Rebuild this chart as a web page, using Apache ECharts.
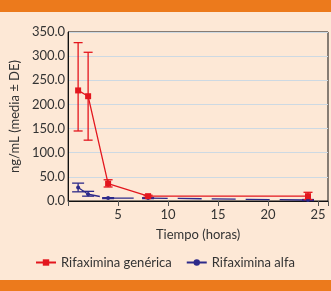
<!DOCTYPE html>
<html>
<head>
<meta charset="utf-8">
<script src="https://cdn.jsdelivr.net/npm/echarts@6/dist/echarts.min.js"></script>
<style>
  html, body { margin: 0; padding: 0; background: #fde8d6; }
  #chart { width: 331px; height: 291px; }
</style>
</head>
<body>
<div id="chart"></div>
<script>
// horas
const horas = [1, 2, 4, 8, 24]
// Rifaximina genérica (media, DE)
const genericaMedia = [229, 217, 36, 10, 10]
const genericaBaja = [145, 126, 29, 8, 3]
const genericaAlta = [328, 308, 44, 12, 18]
// Rifaximina alfa
const alfaMedia = [28, 14, 6, 6, 2]
const alfaBaja = [19, 10, 5, 5, 1]
const alfaAlta = [37, 20, 7, 7, 3]

const yTicks = [0, 50, 100, 150, 200, 250, 300, 350]
const xTicks = [5, 10, 15, 20, 25]

const rojo = '#e3161e'
const azul = '#2d2a8a'
const fuente = 'Lato'

const chart = echarts.init(document.getElementById('chart'))

// barras de error
function errorSeries(low, high, color, cap) {
  return {
    type: 'custom',
    silent: true,
    z: 1,
    data: horas.map((h, i) => [h, low[i], high[i]]),
    renderItem: function(params, api) {
      const lo = api.coord([api.value(0), api.value(1)])
      const hi = api.coord([api.value(0), api.value(2)])
      const st = { stroke: color, lineWidth: 1.3 }
      return {
        type: 'group',
        children: [
          { type: 'line', shape: { x1: lo[0], y1: lo[1], x2: hi[0], y2: hi[1] }, style: st },
          { type: 'line', shape: { x1: lo[0] - cap, y1: lo[1], x2: lo[0] + cap, y2: lo[1] }, style: st },
          { type: 'line', shape: { x1: hi[0] - cap, y1: hi[1], x2: hi[0] + cap, y2: hi[1] }, style: st }
        ]
      }
    }
  }
}

chart.setOption({
  backgroundColor: '#fde8d6',
  animation: false,
  textStyle: { fontFamily: fuente },
  graphic: [
    { type: 'rect', left: 0, top: 0, shape: { width: 331, height: 12 }, style: { fill: '#ec7a1c' } },
    { type: 'rect', left: 0, top: 280, shape: { width: 331, height: 11 }, style: { fill: '#ec7a1c' } }
  ],
  grid: {
    left: 52,
    right: -14,
    top: 32,
    bottom: 90,
    show: true,
    borderColor: '#111',
    borderWidth: 1
  },
  legend: {
    left: 30,
    top: 251,
    itemWidth: 20,
    itemHeight: 8,
    itemGap: 14,
    textStyle: { fontFamily: fuente, fontSize: 13, color: '#333' },
    data: ['Rifaximina genérica', 'Rifaximina alfa']
  },
  xAxis: {
    type: 'value',
    min: 0,
    max: 26,
    interval: 5,
    name: 'Tiempo (horas)',
    nameLocation: 'middle',
    nameGap: 27,
    nameTextStyle: { fontFamily: fuente, fontSize: 13, color: '#333' },
    axisLine: { show: true, lineStyle: { color: '#111', width: 1 } },
    axisTick: { show: true, length: 5, lineStyle: { color: '#555' } },
    splitLine: { show: false },
    axisLabel: {
      fontFamily: fuente,
      fontSize: 13,
      color: '#333',
      margin: 7,
      formatter: v => (xTicks.indexOf(v) >= 0 ? String(v) : '')
    }
  },
  yAxis: {
    type: 'value',
    min: yTicks[0],
    max: yTicks[yTicks.length - 1],
    interval: 50,
    name: 'ng/mL (media ± DE)',
    nameLocation: 'middle',
    nameGap: 44,
    nameRotate: 90,
    nameTextStyle: { fontFamily: fuente, fontSize: 13, color: '#333' },
    axisLine: { show: true, lineStyle: { color: '#111', width: 1 } },
    axisTick: { show: false },
    splitLine: { show: true, lineStyle: { color: '#cdd9e3', width: 1 } },
    axisLabel: {
      fontFamily: fuente,
      fontSize: 13,
      color: '#333',
      margin: 3,
      formatter: v => v.toFixed(1)
    }
  },
  series: [
    errorSeries(alfaBaja, alfaAlta, azul, 6),
    errorSeries(genericaBaja, genericaAlta, rojo, 4.5),
    {
      name: 'Rifaximina alfa',
      type: 'line',
      z: 2,
      data: horas.map((h, i) => [h, alfaMedia[i]]),
      symbol: 'circle',
      symbolSize: 4,
      itemStyle: { color: azul },
      lineStyle: { color: azul, width: 1.3, type: [24, 10] }
    },
    {
      name: 'Rifaximina genérica',
      type: 'line',
      z: 3,
      data: horas.map((h, i) => [h, genericaMedia[i]]),
      symbol: 'rect',
      symbolSize: 6,
      itemStyle: { color: rojo },
      lineStyle: { color: rojo, width: 1.3 }
    }
  ]
})
</script>
</body>
</html>
